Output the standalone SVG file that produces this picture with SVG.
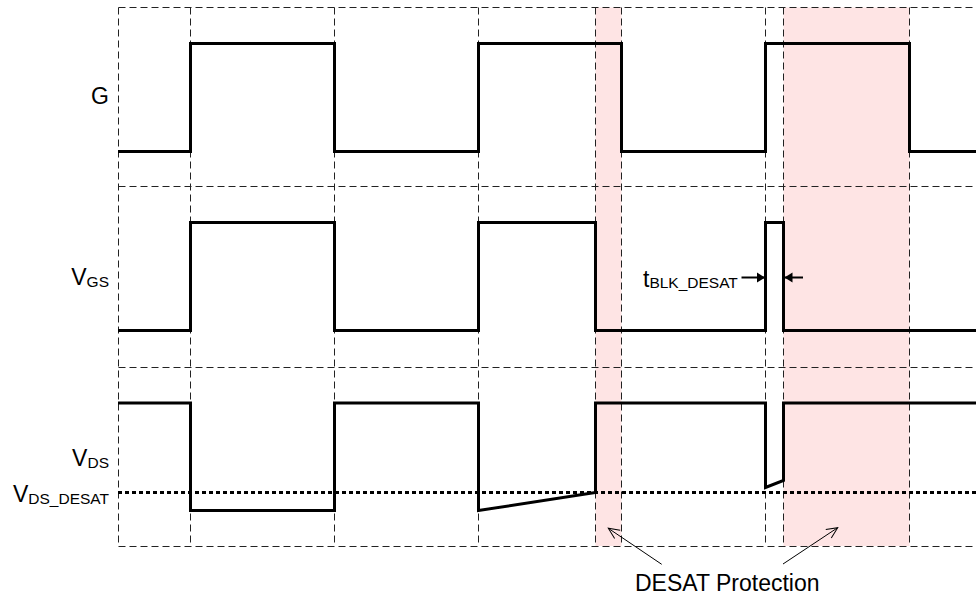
<svg xmlns="http://www.w3.org/2000/svg" width="976" height="601" viewBox="0 0 976 601">
<style>
.grid{stroke:#222;stroke-width:1;stroke-dasharray:7,4;fill:none}
.wave{stroke:#000;stroke-width:3;fill:none;stroke-linejoin:miter;stroke-linecap:butt}
.desat{stroke:#000;stroke-width:3;stroke-dasharray:4,3;fill:none}
.shade{fill:#fee4e4;stroke:none}
.lbl{font-family:"Liberation Sans",Arial,sans-serif;font-size:23px;fill:#000}
.sub{font-size:15.5px}
.thin{stroke:#000;stroke-width:1;fill:none}
.dim{stroke:#000;stroke-width:2;fill:none}
</style>
<defs>
<marker id="open" markerUnits="userSpaceOnUse" markerWidth="14" markerHeight="12" refX="12" refY="6" orient="auto">
<path d="M1,1 L12,6 L1,11" fill="none" stroke="#000" stroke-width="1"/>
</marker>
<marker id="solid" markerUnits="userSpaceOnUse" markerWidth="10" markerHeight="12" refX="8" refY="6" orient="auto">
<path d="M0,1 L8,6 L0,11 Z" fill="#000"/>
</marker>
</defs>
<rect width="976" height="601" fill="#fff"/>
<g id="shading">
<rect class="shade" x="595.5" y="7.5" width="26" height="538.5"/>
<rect class="shade" x="783.5" y="7.5" width="126" height="538.5"/>
</g>
<g id="grid">
<line class="grid" x1="118.5" y1="7.5" x2="976" y2="7.5"/>
<line class="grid" x1="118.5" y1="186.5" x2="976" y2="186.5"/>
<line class="grid" x1="118.5" y1="367.5" x2="976" y2="367.5"/>
<line class="grid" x1="118.5" y1="546.5" x2="976" y2="546.5"/>
<line class="grid" x1="118.5" y1="7.5" x2="118.5" y2="546.5"/>
<line class="grid" x1="190.5" y1="7.5" x2="190.5" y2="546.5"/>
<line class="grid" x1="334.5" y1="7.5" x2="334.5" y2="546.5"/>
<line class="grid" x1="478.5" y1="7.5" x2="478.5" y2="546.5"/>
<line class="grid" x1="595.5" y1="7.5" x2="595.5" y2="546.5"/>
<line class="grid" x1="621.5" y1="7.5" x2="621.5" y2="546.5"/>
<line class="grid" x1="765.5" y1="7.5" x2="765.5" y2="546.5"/>
<line class="grid" x1="783.5" y1="7.5" x2="783.5" y2="546.5"/>
<line class="grid" x1="909.5" y1="7.5" x2="909.5" y2="546.5"/>
</g>
<g id="G">
<text class="lbl" x="109" y="104" text-anchor="end">G</text>
<path class="wave" d="M118,151.5 H190.5 V43.5 H334.5 V151.5 H478.5 V43.5 H621.5 V151.5 H765.5 V43.5 H909.5 V151.5 H976"/>
</g>
<g id="VGS">
<text class="lbl" x="109" y="285" text-anchor="end">V<tspan class="sub" dy="2">GS</tspan></text>
<path class="wave" d="M118,330.5 H190.5 V222.5 H334.5 V330.5 H478.5 V222.5 H595.5 V330.5 H765.5 V222.5 H783.5 V330.5 H976"/>
</g>
<g id="VDS">
<text class="lbl" x="109" y="466" text-anchor="end">V<tspan class="sub" dy="2">DS</tspan></text>
<path class="wave" d="M118,403 H190.5 V510.5 H334.5 V403 H478.5 V510.5 L595.5,492.5 V403 H765.5 V487.5 L783.5,480.5 V403 H976"/>
</g>
<g id="VDS_DESAT">
<text class="lbl" x="109" y="502" text-anchor="end">V<tspan class="sub" dy="2">DS_DESAT</tspan></text>
<line class="desat" x1="118" y1="492.5" x2="976" y2="492.5"/>
</g>
<g id="tBLK">
<text class="lbl" x="643" y="286.5">t<tspan class="sub" dy="1.5">BLK_DESAT</tspan></text>
</g>
<g id="DESAT_Protection">
<text class="lbl" x="635" y="591">DESAT Protection</text>
</g>
<g id="connectors">
<line class="dim" x1="741.5" y1="277.5" x2="765" y2="277.5" marker-end="url(#solid)"/>
<line class="dim" x1="803" y1="277.5" x2="784.5" y2="277.5" marker-end="url(#solid)"/>
<line class="thin" x1="661.7" y1="564.3" x2="608.3" y2="528.3" marker-end="url(#open)"/>
<line class="thin" x1="783" y1="564" x2="837.7" y2="527.7" marker-end="url(#open)"/>
</g>
</svg>
